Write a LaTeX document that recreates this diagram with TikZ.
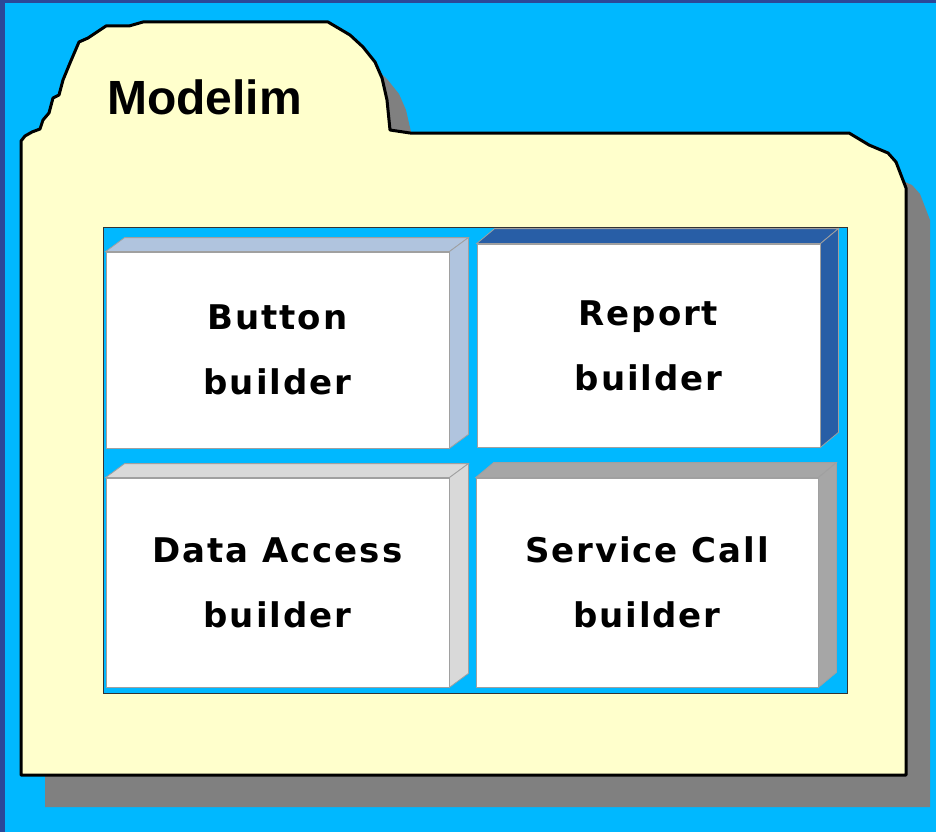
\documentclass[tikz,border=0pt]{standalone}
\usepackage{fontspec}
\newfontfamily\boxfont[LetterSpace=5.6]{DejaVu Sans}
\newfontfamily\titlefont{Liberation Sans}
\definecolor{bgcyan}{RGB}{0,184,255}
\definecolor{bgdark}{RGB}{44,72,152}
\definecolor{folderyellow}{RGB}{255,255,204}
\definecolor{shadowgray}{RGB}{128,128,128}
\definecolor{edgegray}{RGB}{160,160,160}
\definecolor{sidesteel}{RGB}{176,196,222}
\definecolor{sideblue}{RGB}{40,94,166}
\definecolor{sidelight}{RGB}{217,217,217}
\definecolor{sidemid}{RGB}{166,166,166}
\tikzset{
  facebox/.style={draw=edgegray, line width=0.8pt, fill=white, inner sep=0pt, align=center,
    font=\boxfont\bfseries\fontsize{34}{65}\selectfont},
  sideface/.style={draw=edgegray, line width=0.8pt},
  folderline/.style={draw=black, line width=3pt, line join=round, fill=folderyellow},
}
\begin{document}
\begin{tikzpicture}[x=1pt, y=-1pt]
\useasboundingbox (0,0) rectangle (936,832);
% background
\fill[bgcyan] (0,0) rectangle (936,832);
\fill[bgdark] (0,0) rectangle (5,832);
\fill[bgdark] (0,0) rectangle (936,3);
% folder path
\def\folderpath{(21,775) -- (21,141) -- (25,136) -- (32,132) -- (40,129) -- (43,120) -- (49,113) -- (53,98) -- (59,95) -- (63,80) -- (70,63) -- (79,42) -- (88,38) -- (106,26) -- (129,26) -- (143,22) -- (328,22) -- (350,35) -- (363,47) -- (375,62) -- (382,78) -- (387,100) -- (390,130) -- (410,133) -- (849,133) -- (869,145) -- (888,153) -- (896,162) -- (906,188) -- (906,775) -- cycle}
\fill[shadowgray, shift={(24pt,-32pt)}] \folderpath;
\path[folderline] \folderpath;
\node[font=\titlefont\bfseries\fontsize{48}{56}\selectfont, anchor=base west, inner sep=0pt] (title) at (107,114) {Modelim};
% inner panel
\node[draw=black!80, line width=1pt, fill=bgcyan, minimum width=744pt, minimum height=466pt, inner sep=0pt] (panel) at (475,460) {};
% boxes
\node[facebox, minimum width=343pt, minimum height=196pt] (b1) at (277.5,350) {Button\\builder};
\node[facebox, minimum width=343pt, minimum height=203pt] (b2) at (648.5,345.5) {Report\\builder};
\node[facebox, minimum width=343pt, minimum height=209pt] (b3) at (277.5,582.5) {Data Access\\builder};
\node[facebox, minimum width=342pt, minimum height=209pt] (b4) at (647,582.5) {Service Call\\builder};
% depth faces
\foreach \b/\c/\dx/\dy in {b1/sidesteel/19/14, b2/sideblue/18/15, b3/sidelight/19/14, b4/sidemid/18/15}{
  \path[sideface, fill=\c] (\b.north west) -- ++(\dx pt,\dy pt) -- ([shift={(\dx pt,\dy pt)}]\b.north east) -- (\b.north east) -- cycle;
  \path[sideface, fill=\c] (\b.north east) -- ++(\dx pt,\dy pt) -- ([shift={(\dx pt,\dy pt)}]\b.south east) -- (\b.south east) -- cycle;
}
\end{tikzpicture}
\end{document}
